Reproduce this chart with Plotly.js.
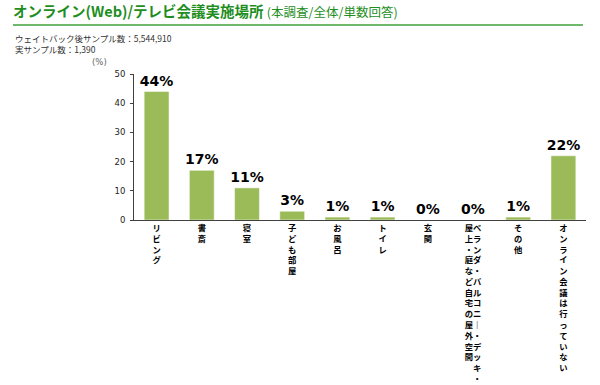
<!DOCTYPE html>
<html>
<head>
<meta charset="utf-8">
<script src="https://cdn.plot.ly/plotly-3.0.1.min.js"></script>
<style>html,body{margin:0;padding:0;background:#fff;}#chart{width:600px;height:385px;}</style>
</head>
<body>
<div id="chart"></div>
<script>
// ---- data ----
const categories = [
  'リビング',
  '書斎',
  '寝室',
  '子ども部屋',
  'お風呂',
  'トイレ',
  '玄関',
  'ベランダ・バルコニー・デッキ・\n屋上・庭など自宅の屋外空間',
  'その他',
  'オンライン会議は行っていない'
];
const values = [44, 17, 11, 3, 1, 1, 0, 0, 1, 22];
const yTicks = [0, 10, 20, 30, 40, 50];
const titleMain = 'オンライン(Web)/テレビ会議実施場所';
const titleSub = '(本調査/全体/単数回答)';
const sampleNotes = ['ウェイトバック後サンプル数：5,544,910', '実サンプル数：1,390'];
const unitLabel = '(%)';

// ---- helpers ----
function vertical(label) {
  const cols = label.split('\n').map(s => Array.from(s).map(c => c === 'ー' ? '｜' : c));
  const n = Math.max(...cols.map(c => c.length));
  const rows = [];
  for (let i = 0; i < n; i++) {
    let row = '';
    for (let j = cols.length - 1; j >= 0; j--) row += cols[j][i] || '　';
    rows.push('<b>' + row + '</b>');
  }
  return rows.join('<br>');
}
const keys = categories.map(c => c.replace('\n', ''));
const tickText = categories.map(vertical);

const W = 600, H = 385;
const M = {l: 134, r: 14, t: 74, b: 165};
const pw = W - M.l - M.r, ph = H - M.t - M.b;
const px = x => (x - M.l) / pw;
const py = y => (H - M.b - y) / ph;

const green = '#9BBB59';
const jp = '"Noto Sans CJK JP", sans-serif';
const num = '"DejaVu Sans", "Noto Sans CJK JP", sans-serif';

const trace = {
  type: 'bar',
  x: keys,
  y: values,
  marker: {color: green, line: {color: '#ffffff', width: 0.5}},
  text: values.map(v => v + '%'),
  textposition: 'outside',
  constraintext: 'none',
  textfont: {family: num, size: 14, weight: 'bold', color: '#000'},
  cliponaxis: false,
  hoverinfo: 'none'
};

const layout = {
  width: W, height: H,
  margin: M,
  paper_bgcolor: '#fff', plot_bgcolor: '#fff',
  showlegend: false,
  bargap: 0.45,
  title: {
    text: '<b>' + titleMain + '</b> <span style="font-size:12.5px;font-weight:normal">' + titleSub + '</span>',
    font: {family: jp, size: 14.5, color: '#1E8E1E'},
    xref: 'container', yref: 'container',
    x: 13 / W, xanchor: 'left',
    y: 1 - 12 / H, yanchor: 'middle'
  },
  xaxis: {
    type: 'category',
    tickvals: keys,
    ticktext: tickText,
    showline: true, linecolor: '#404040', linewidth: 1,
    ticks: '',
    tickfont: {family: jp, size: 8.3, color: '#000'},
    tickangle: 0,
    showgrid: false, zeroline: false,
    fixedrange: true
  },
  yaxis: {
    range: [0, 50],
    tickvals: yTicks,
    showline: true, linecolor: '#404040', linewidth: 1,
    ticks: 'outside', ticklen: 3, tickcolor: '#404040',
    ticklabelstandoff: 3,
    tickfont: {family: num, size: 8.5, color: '#222'},
    showgrid: false, zeroline: false,
    fixedrange: true
  },
  shapes: [{
    type: 'line', xref: 'paper', yref: 'paper',
    x0: px(13), x1: px(583), y0: py(25), y1: py(25),
    line: {color: '#3FA23F', width: 1.5}
  }],
  annotations: [
    {
      text: sampleNotes.join('<br>'),
      xref: 'paper', yref: 'paper',
      x: px(13), y: py(30), xanchor: 'left', yanchor: 'top', align: 'left',
      showarrow: false,
      font: {family: jp, size: 8.5, color: '#333'}
    },
    {
      text: unitLabel,
      xref: 'paper', yref: 'paper',
      x: px(99), y: py(62), xanchor: 'center', yanchor: 'middle',
      showarrow: false,
      font: {family: num, size: 8.5, color: '#666'}
    }
  ]
};

Plotly.newPlot('chart', [trace], layout, {displayModeBar: false, staticPlot: true});
</script>
</body>
</html>
